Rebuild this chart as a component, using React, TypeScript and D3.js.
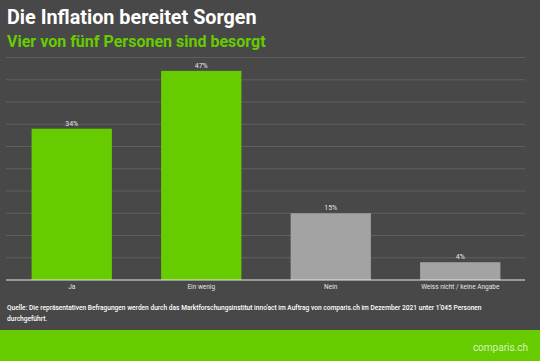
import React from "react";
import * as d3 from "d3";

const categories = ["Ja", "Ein wenig", "Nein", "Weiss nicht / keine Angabe"];
const values = [34, 47, 15, 4];
const barColors = ["#66cc00", "#66cc00", "#a3a3a3", "#a3a3a3"];
const gridTicks = [0, 5, 10, 15, 20, 25, 30, 35, 40, 45, 50];

const W = 540;
const H = 361;

export default function App() {
  const x = d3
    .scaleBand<string>()
    .domain(categories)
    .range([7, 525])
    .paddingInner(0.38)
    .paddingOuter(0.19);
  const y = d3.scaleLinear().domain([0, 50]).range([280, 57.5]);
  const font = "Roboto, 'Liberation Sans', Arial, sans-serif";

  return (
    <svg
      width={W}
      height={H}
      style={{ position: "absolute", left: 0, top: 0, display: "block" }}
      fontFamily={font}
    >
      <rect x={0} y={0} width={W} height={H} fill="#484848" />
      <text x={7} y={24} fill="#ffffff" fontSize={19.8} fontWeight={700}>
        Die Inflation bereitet Sorgen
      </text>
      <text x={7} y={47} fill="#66cc00" fontSize={16} fontWeight={700}>
        Vier von fünf Personen sind besorgt
      </text>
      {gridTicks
        .filter((t) => t > 0)
        .map((t) => (
          <line
            key={t}
            x1={6}
            x2={525}
            y1={y(t)}
            y2={y(t)}
            stroke="#5f5f5f"
            strokeWidth={1}
          />
        ))}
      {categories.map((c, i) => (
        <g key={c}>
          <rect
            x={x(c)}
            y={y(values[i])}
            width={x.bandwidth()}
            height={y(0) - y(values[i])}
            fill={barColors[i]}
          />
          <text
            x={(x(c) as number) + x.bandwidth() / 2}
            y={y(values[i]) - 3}
            fill="#e6e6e6"
            fontSize={7}
            textAnchor="middle"
          >
            {values[i]}%
          </text>
          <text
            x={(x(c) as number) + x.bandwidth() / 2}
            y={289}
            fill="#e6e6e6"
            fontSize={6.5}
            textAnchor="middle"
          >
            {c}
          </text>
        </g>
      ))}
      <line x1={6} x2={525} y1={y(0)} y2={y(0)} stroke="#e8e8e8" strokeWidth={1.2} />
      <text x={7} y={310} fill="#ffffff" fontSize={6.6} fontWeight={500}>
        Quelle: Die repräsentativen Befragungen werden durch das Marktforschungsinstitut inno'act im Auftrag von comparis.ch im Dezember 2021 unter 1'045 Personen
      </text>
      <text x={7} y={321} fill="#ffffff" fontSize={6.6} fontWeight={500}>
        durchgeführt.
      </text>
      <rect x={0} y={330} width={W} height={H - 330} fill="#66cc00" />
      <text x={528} y={351} fill="#d9f2bf" fontSize={10} textAnchor="end">
        comparis.ch
      </text>
    </svg>
  );
}
